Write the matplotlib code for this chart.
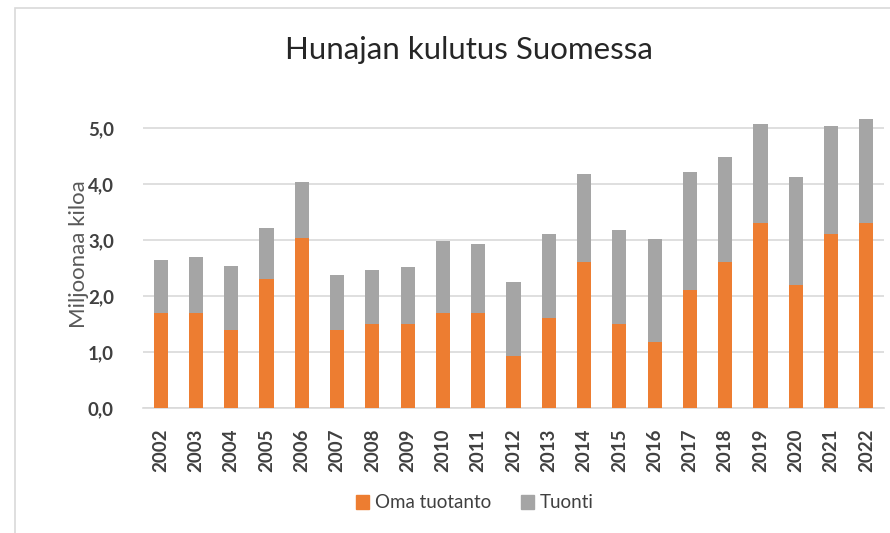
import matplotlib
matplotlib.use("Agg")
import matplotlib.pyplot as plt
from matplotlib.patches import Rectangle, Patch
import numpy as np

years = [str(y) for y in range(2002, 2023)]
oma_tuotanto = [1.7, 1.7, 1.4, 2.3, 3.04, 1.4, 1.5, 1.5, 1.7, 1.7, 0.92, 1.6, 2.6, 1.5, 1.18, 2.1, 2.6, 3.3, 2.2, 3.1, 3.3]
total = [2.65, 2.7, 2.53, 3.21, 4.04, 2.38, 2.46, 2.52, 2.98, 2.93, 2.25, 3.1, 4.17, 3.18, 3.01, 4.22, 4.48, 5.07, 4.12, 5.04, 5.16]
tuonti = [round(t - o, 2) for t, o in zip(total, oma_tuotanto)]
yticks = [0, 1, 2, 3, 4, 5]
ytick_labels = ["0,0", "1,0", "2,0", "3,0", "4,0", "5,0"]

plt.rcParams['font.family'] = ['Lato', 'DejaVu Sans']

fig = plt.figure(figsize=(8.9, 5.33), dpi=100)
ax = fig.add_axes([143/890, 1-408/533, (884-143)/890, (408-128)/533*5.5/5.0])

x = np.arange(len(years))
orange = '#ED7D31'
grey = '#A5A5A5'
ax.bar(x, oma_tuotanto, width=0.4, color=orange, zorder=3, label='Oma tuotanto')
ax.bar(x, tuonti, bottom=oma_tuotanto, width=0.4, color=grey, zorder=3, label='Tuonti')

ax.set_xlim(-0.5, len(years) - 0.5)
ax.set_ylim(0, 5.5)
ax.set_yticks(yticks)
ax.set_yticklabels(ytick_labels, fontsize=13.5, color='#404040', fontweight='bold')
ax.set_xticks(x)
ax.set_xticklabels(years, rotation=90, fontsize=13.5, color='#404040', fontweight='bold')
ax.tick_params(axis='both', length=0)
ax.tick_params(axis='y', pad=21)
ax.tick_params(axis='x', pad=15)
ax.grid(axis='y', color='#D9D9D9', linewidth=1.2, zorder=0)
for s in ['top', 'right', 'left']:
    ax.spines[s].set_visible(False)
ax.spines['bottom'].set_color('#D9D9D9')
ax.spines['bottom'].set_linewidth(1.2)
ax.set_ylabel('Miljoonaa kiloa', fontsize=16, color='#595959', labelpad=-1)

fig.text(469/890, 1-50/533, 'Hunajan kulutus Suomessa', ha='center', va='center', fontsize=22.5, color='#262626')

handles = [Patch(color=orange), Patch(color=grey)]
fig.legend(handles, ['Oma tuotanto', 'Tuonti'], loc='center', bbox_to_anchor=(475/890, 1-503/533),
           ncol=2, frameon=False, fontsize=13.5, handlelength=0.7, handleheight=0.7,
           handletextpad=0.3, columnspacing=1.6, labelcolor='#404040')

fig.patches.append(Rectangle((15/890, -0.1), 1.2, 1-8/533+0.1, transform=fig.transFigure,
                             fill=False, edgecolor='#D9D9D9', linewidth=1.2))

fig.savefig('out.png', dpi=100, facecolor='white')
